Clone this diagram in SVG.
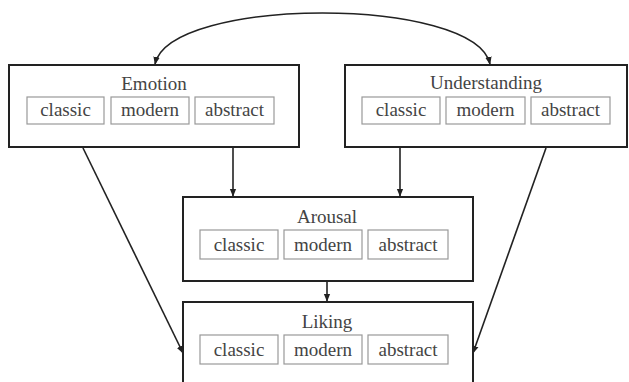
<svg xmlns="http://www.w3.org/2000/svg" width="629" height="382" viewBox="0 0 629 382">
<style>
.outer{fill:#fff;stroke:#222;stroke-width:2}
.inner{fill:#fff;stroke:#999;stroke-width:1.2}
text{font-family:"Liberation Serif","Times New Roman",serif;font-size:19px;fill:#444;text-anchor:middle}
.conn{fill:none;stroke:#222;stroke-width:1.6}
</style>
<defs>
<marker id="ah" viewBox="0 0 10 10" refX="9" refY="5" markerWidth="5" markerHeight="5" orient="auto-start-reverse" markerUnits="strokeWidth">
<path d="M0,1 L10,5 L0,9 z" fill="#222"/>
</marker>
</defs>
<g id="connectors">
<path class="conn" d="M155,64 C170,-4 475,-4 490,64" marker-start="url(#ah)" marker-end="url(#ah)"/>
<line class="conn" x1="233" y1="148" x2="233" y2="196" marker-end="url(#ah)"/>
<line class="conn" x1="400" y1="148" x2="400" y2="196" marker-end="url(#ah)"/>
<line class="conn" x1="327" y1="282" x2="327" y2="301" marker-end="url(#ah)"/>
<line class="conn" x1="83" y1="148" x2="183" y2="353" marker-end="url(#ah)"/>
<line class="conn" x1="546" y1="148" x2="473" y2="353" marker-end="url(#ah)"/>
</g>
<g id="emotion">
<rect class="outer" x="9" y="65" width="290" height="82"/>
<text x="154" y="90">Emotion</text>
<rect class="inner" x="27" y="97" width="77" height="27"/><text x="65.5" y="116">classic</text>
<rect class="inner" x="111" y="97" width="78" height="27"/><text x="150" y="116">modern</text>
<rect class="inner" x="195" y="97" width="79" height="27"/><text x="234.5" y="116">abstract</text>
</g>
<g id="understanding">
<rect class="outer" x="345" y="65" width="282" height="82"/>
<text x="486" y="89">Understanding</text>
<rect class="inner" x="362" y="97" width="78" height="27"/><text x="401" y="116">classic</text>
<rect class="inner" x="446" y="97" width="79" height="27"/><text x="485.5" y="116">modern</text>
<rect class="inner" x="531" y="97" width="79" height="27"/><text x="570.5" y="116">abstract</text>
</g>
<g id="arousal">
<rect class="outer" x="183" y="197" width="290" height="84"/>
<text x="327" y="223">Arousal</text>
<rect class="inner" x="200" y="230" width="78" height="29"/><text x="239" y="251">classic</text>
<rect class="inner" x="284" y="230" width="78" height="29"/><text x="323" y="251">modern</text>
<rect class="inner" x="368" y="230" width="80" height="29"/><text x="408" y="251">abstract</text>
</g>
<g id="liking">
<rect class="outer" x="183" y="302" width="290" height="90"/>
<text x="327" y="328">Liking</text>
<rect class="inner" x="200" y="335" width="78" height="29"/><text x="239" y="356">classic</text>
<rect class="inner" x="284" y="335" width="78" height="29"/><text x="323" y="356">modern</text>
<rect class="inner" x="368" y="335" width="80" height="29"/><text x="408" y="356">abstract</text>
</g>
</svg>
